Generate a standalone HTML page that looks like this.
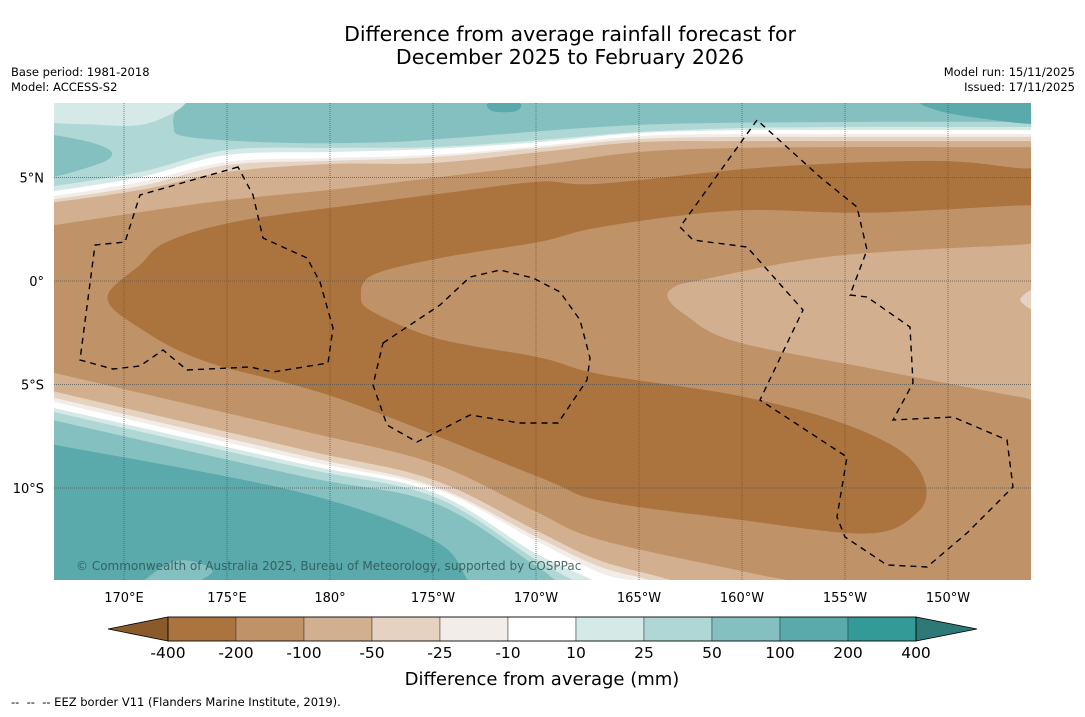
<!DOCTYPE html>
<html><head><meta charset="utf-8"><style>
html,body{margin:0;padding:0;background:#fff;}
body{width:1085px;height:713px;overflow:hidden;font-family:"DejaVu Sans","Liberation Sans",sans-serif;}
svg text{font-family:"DejaVu Sans","Liberation Sans",sans-serif;}
</style></head><body>
<svg id="chart" width="1085" height="713" viewBox="0 0 1085 713" xmlns="http://www.w3.org/2000/svg">
<text x="570" y="41" font-size="20.5" text-anchor="middle" fill="#000">Difference from average rainfall forecast for</text>
<text x="570" y="64" font-size="20.5" text-anchor="middle" fill="#000">December 2025 to February 2026</text>
<text x="11" y="76" font-size="11.5">Base period: 1981-2018</text>
<text x="11" y="91" font-size="11.5">Model: ACCESS-S2</text>
<text x="1075" y="76" font-size="11.5" text-anchor="end">Model run: 15/11/2025</text>
<text x="1075" y="91" font-size="11.5" text-anchor="end">Issued: 17/11/2025</text>
<defs><clipPath id="mapclip"><rect x="54" y="103" width="977" height="477"/></clipPath></defs>
<g id="map" clip-path="url(#mapclip)"></g>
<g id="axes"></g>
<g id="cbar"></g>
<text x="542" y="685" font-size="18" text-anchor="middle">Difference from average (mm)</text>
<text x="11" y="706" font-size="11.5" xml:space="preserve" style="white-space:pre">--  --  -- EEZ border V11 (Flanders Marine Institute, 2019).</text>
</svg>
<script>
// ---- data ----
const categories = ["-400","-200","-100","-50","-25","-10","10","25","50","100","200","400"];
const bandColors = ["#ab743e","#bf9268","#d2b08f","#e5d2c0","#f2ede8","#ffffff","#d5e9e7","#aed7d5","#84c0bf","#5aaaab","#339a98"];
const latTicks = [5,0,-5,-10];
const latTickLabels = ["5°N","0°","5°S","10°S"];
const lonTicks = [170,175,180,185,190,195,200,205,210];
const lonTickLabels = ["170°E","175°E","180°","175°W","170°W","165°W","160°W","155°W","150°W"];
// northern contour lines (lat at each lon)
const northLons = [166.0,170.8,175,180,185,190.2,195,200,205,210,214.5];
const north25 = [4.49,5.27,6.33,6.43,6.47,6.81,7.20,7.39,7.44,7.44,7.44];
const north10 = [4.25,5.02,6.09,6.23,6.38,6.71,7.15,7.29,7.29,7.29,7.29];
const northM10 = [4.01,4.78,5.75,5.94,6.09,6.52,7.0,7.10,7.10,7.10,7.10];
const northM25 = [3.86,4.59,5.60,5.80,5.99,6.43,6.86,6.96,6.96,6.96,6.96];
const northM50 = [3.72,4.40,5.27,5.65,5.70,6.23,6.71,6.76,6.76,6.76,6.76];
const northM100 = [2.61,3.33,3.91,4.40,4.98,5.60,6.23,6.43,6.47,6.47,6.47];
const north50Lons = [172.6,172.4,173.1,177.9,182.8,186.0,195.0,205.0,214.5];
const north50 = [8.6,7.54,6.96,6.67,6.71,6.91,7.54,7.68,7.68];
// southern contour lines
const southM100Lons = [166.0,178.5,185,189.9,193.1,200.4,202.8,207.7,214.5];
const southM100 = [-4.3,-7.2,-8.8,-11.1,-12.5,-14.1,-14.6,-16,-16];
const southM50Lons = [166.0,178.5,185,189.9,193.1,197,200];
const southM50 = [-5.2,-8.1,-9.6,-12.0,-13.5,-14.6,-16];
const southM25Lons = [166.0,178.5,185,189.9,193.1,196,199];
const southM25 = [-5.5,-8.4,-9.9,-12.3,-13.8,-14.6,-16];
const southM10Lons = [166.0,178.5,185,189.9,193.1,195,198];
const southM10 = [-5.7,-8.6,-10.0,-12.5,-14.1,-14.6,-16];
const south10Lons = [166.0,178.5,185,189.9,193.1,196];
const south10 = [-6.0,-8.8,-10.2,-13.1,-14.6,-16];
const south25Lons = [166.0,178.5,185,189.9,192.1,195];
const south25 = [-6.2,-9.0,-10.4,-13.4,-14.6,-16];
const south50Lons = [166.0,178.5,185,189.9,191.2,194];
const south50 = [-6.6,-9.4,-10.7,-13.7,-14.6,-16];
const south100Lons = [166.0,178.5,185,186.8,188];
const south100 = [-7.8,-10.2,-12.5,-14.6,-16];
// core (< -200) region outline
const coreLons = [169.2,170.8,172.1,175.6,182.1,186.0,190.2,193.1,201.2,209.3,213.5,215.5,215.5,213.5,206.1,199.6,193.1,190.2,185.3,182.1,181.5,182.1,185.3,190.2,193.1,199.6,204.4,207.7,208.9,208.5,206.1,199.6,193.1,190.2,180.5,174.0,170.8];
const coreLats = [-0.8,0.8,1.9,2.9,3.8,4.3,4.8,4.7,5.5,5.8,5.45,5.4,3.7,3.65,3.3,3.4,2.6,1.9,1.1,0.3,-0.7,-1.5,-2.8,-3.7,-4.5,-5.5,-6.7,-8.2,-9.8,-11.2,-12.2,-11.5,-10.6,-9.5,-5.7,-3.9,-2.3];
// light (-100..-50) tongue
const tongueLons = [196.4,196.7,198.0,204.4,213.5,215.5,215.5,213.5,206.1,199.6,197.2];
const tongueLats = [-0.8,-0.3,0.05,1.2,1.75,1.8,-5.8,-5.6,-4.2,-2.9,-1.6];

// ---- axis functions ----
const X = lon => 124 + (lon - 170) * 20.6;
const Y = lat => 281 - lat * 20.7;
const NS = 'http://www.w3.org/2000/svg';
const map = document.getElementById('map');
function mk(tag, attrs, parent){const e=document.createElementNS(NS,tag);for(const k in attrs)e.setAttribute(k,attrs[k]);parent.appendChild(e);return e;}
function P(lons,lats){return lons.map((l,i)=>[X(l),Y(lats[i])]);}
function smooth(p, closed){
  const n=p.length; let d='';
  const get=i=>closed?p[(i+n)%n]:p[Math.max(0,Math.min(n-1,i))];
  const segs=closed?n:n-1;
  for(let i=0;i<segs;i++){
    const p0=get(i-1),p1=get(i),p2=get(i+1),p3=get(i+2);
    const c1=[p1[0]+(p2[0]-p0[0])/6,p1[1]+(p2[1]-p0[1])/6];
    const c2=[p2[0]-(p3[0]-p1[0])/6,p2[1]-(p3[1]-p1[1])/6];
    d+=` C${c1[0].toFixed(1)},${c1[1].toFixed(1)} ${c2[0].toFixed(1)},${c2[1].toFixed(1)} ${p2[0].toFixed(1)},${p2[1].toFixed(1)}`;
  }
  return d;
}
function above(lons,lats,color,name){
  const p=P(lons,lats);
  const d='M'+p[0][0]+','+Y(12)+' L'+p[0][0]+','+p[0][1]+smooth(p,false)+' L'+p[p.length-1][0]+','+Y(12)+'Z';
  const e=mk('path',{d:d,fill:color},map);
  
  
}
function below(lons,lats,color,name){
  const p=P(lons,lats);
  const d='M'+p[0][0]+','+Y(-20)+' L'+p[0][0]+','+p[0][1]+smooth(p,false)+' L'+p[p.length-1][0]+','+Y(-20)+'Z';
  const e=mk('path',{d:d,fill:color},map);
  
  
}
function poly(lons,lats,color,name){
  const p=P(lons,lats);
  const e=mk('path',{d:'M'+p[0][0]+','+p[0][1]+smooth(p,true)+'Z',fill:color},map);
  
  
}
// base
const base=mk('rect',{x:54,y:103,width:977,height:477,fill:bandColors[1]},map);


// north bands
above(northLons,northM100,bandColors[2],'north-band-minus100');
above(northLons,northM50,bandColors[3],'north-band-minus50');
above(northLons,northM25,bandColors[4],'north-band-minus25');
above(northLons,northM10,bandColors[5],'north-band-white');
above(northLons,north10,bandColors[6],'north-band-10');
above(northLons,north25,bandColors[7],'north-band-25');
above(north50Lons,north50,bandColors[8],'north-band-50');
poly([165.5,167.9,169.4,168.6,165.5],[6.96,6.81,6.23,5.60,4.98],bandColors[8],'north-left-patch-50');
poly([165.5,168.8,170.8,172.2,173.0,173.5,165.5],[7.87,7.54,7.54,8.02,8.6,9.5,9.5],bandColors[6],'north-left-patch-10');
poly([209.1,214.8,214.8,211.3,209.3],[8.7,8.7,7.6,7.9,8.3],bandColors[9],'north-patch-100-right');
poly([187.7,189.2,189.0,187.9],[8.6,8.6,8.2,8.2],bandColors[9],'north-patch-100-mid');
// south bands
below(southM100Lons,southM100,bandColors[2],'south-band-minus100');
below(southM50Lons,southM50,bandColors[3],'south-band-minus50');
below(southM25Lons,southM25,bandColors[4],'south-band-minus25');
below(southM10Lons,southM10,bandColors[5],'south-band-white');
below(south10Lons,south10,bandColors[6],'south-band-10');
below(south25Lons,south25,bandColors[7],'south-band-25');
below(south50Lons,south50,bandColors[8],'south-band-50');
below(south100Lons,south100,bandColors[9],'south-band-100');
poly([170.8,172.6,174.3,172.8,171.0],[-14.6,-13.5,-14.0,-14.8,-14.8],bandColors[8],'south-patch-50');
// core and tongue
poly(coreLons,coreLats,bandColors[0],'core-minus200-region');
poly(tongueLons,tongueLats,bandColors[2],'tongue-minus100-region');
poly([214.5,213.5,214.5],[-0.3,-0.9,-1.5],bandColors[3],'right-edge-patch');
// grid
const ax=document.getElementById('axes');
lonTicks.forEach((l,i)=>{
  const g=mk('line',{x1:X(l),x2:X(l),y1:103,y2:580,stroke:'#555','stroke-width':0.7,'stroke-dasharray':'1,1'},map);
  
  
  const t=mk('text',{x:X(l),y:602,'font-size':13,'text-anchor':'middle'},ax);t.textContent=lonTickLabels[i];
  
  
});
latTicks.forEach((l,i)=>{
  const g=mk('line',{x1:54,x2:1031,y1:Y(l),y2:Y(l),stroke:'#555','stroke-width':0.7,'stroke-dasharray':'1,1'},map);
  
  
  const t=mk('text',{x:44,y:Y(l)+5,'font-size':13,'text-anchor':'end'},ax);t.textContent=latTickLabels[i];
  
  
});
// EEZ borders (map overlay)
const eez=["M238,167 L140,195 L125,242 L95,245 L80,360 L113,369 L140,366 L163,350 L187,370 L250,367 L273,372 L328,363 L333,328 L320,282 L307,258 L263,238 L253,195 Z",
"M383,343 L440,305 L470,277 L500,270 L533,278 L560,292 L580,320 L590,358 L587,380 L558,423 L520,423 L470,415 L417,442 L387,425 L373,385 Z",
"M757,120 L680,227 L693,240 L747,247 L803,310 L760,400 L847,457 L837,517 L845,537 L887,565 L927,567 L967,533 L1013,487 L1007,440 L953,417 L893,420 L913,383 L910,327 L867,297 L850,295 L867,250 L857,207 L820,177 Z"];
eez.forEach(d=>{const e=mk('path',{d:d,fill:'none',stroke:'#000','stroke-width':1.4,'stroke-dasharray':'6,5'},map);
  
  });
const cr=mk('text',{x:76,y:570,'font-size':12,fill:'#2f5553','fill-opacity':0.85},map);
cr.textContent='© Commonwealth of Australia 2025, Bureau of Meteorology, supported by COSPPac';


// colorbar
const cb=document.getElementById('cbar');
const cx0=168, cw=68, cy0=617, ch=24;
const lt=mk('polygon',{points:`108,${cy0+ch/2} ${cx0},${cy0} ${cx0},${cy0+ch}`,fill:'#8b5a2b',stroke:'#000','stroke-width':0.8},cb);


const rt=mk('polygon',{points:`977,${cy0+ch/2} ${cx0+cw*11},${cy0} ${cx0+cw*11},${cy0+ch}`,fill:'#2e7877',stroke:'#000','stroke-width':0.8},cb);


bandColors.forEach((c,i)=>{
  const r=mk('rect',{x:cx0+i*cw,y:cy0,width:cw,height:ch,fill:c,stroke:'#333','stroke-width':0.5},cb);
  
  
});
const fr=mk('rect',{x:cx0,y:cy0,width:cw*11,height:ch,fill:'none',stroke:'#000','stroke-width':0.8},cb);


categories.forEach((c,i)=>{
  const t=mk('text',{x:cx0+i*cw,y:658,'font-size':15.5,'text-anchor':'middle'},cb);t.textContent=c;
  
  
});
</script>
</body></html>
